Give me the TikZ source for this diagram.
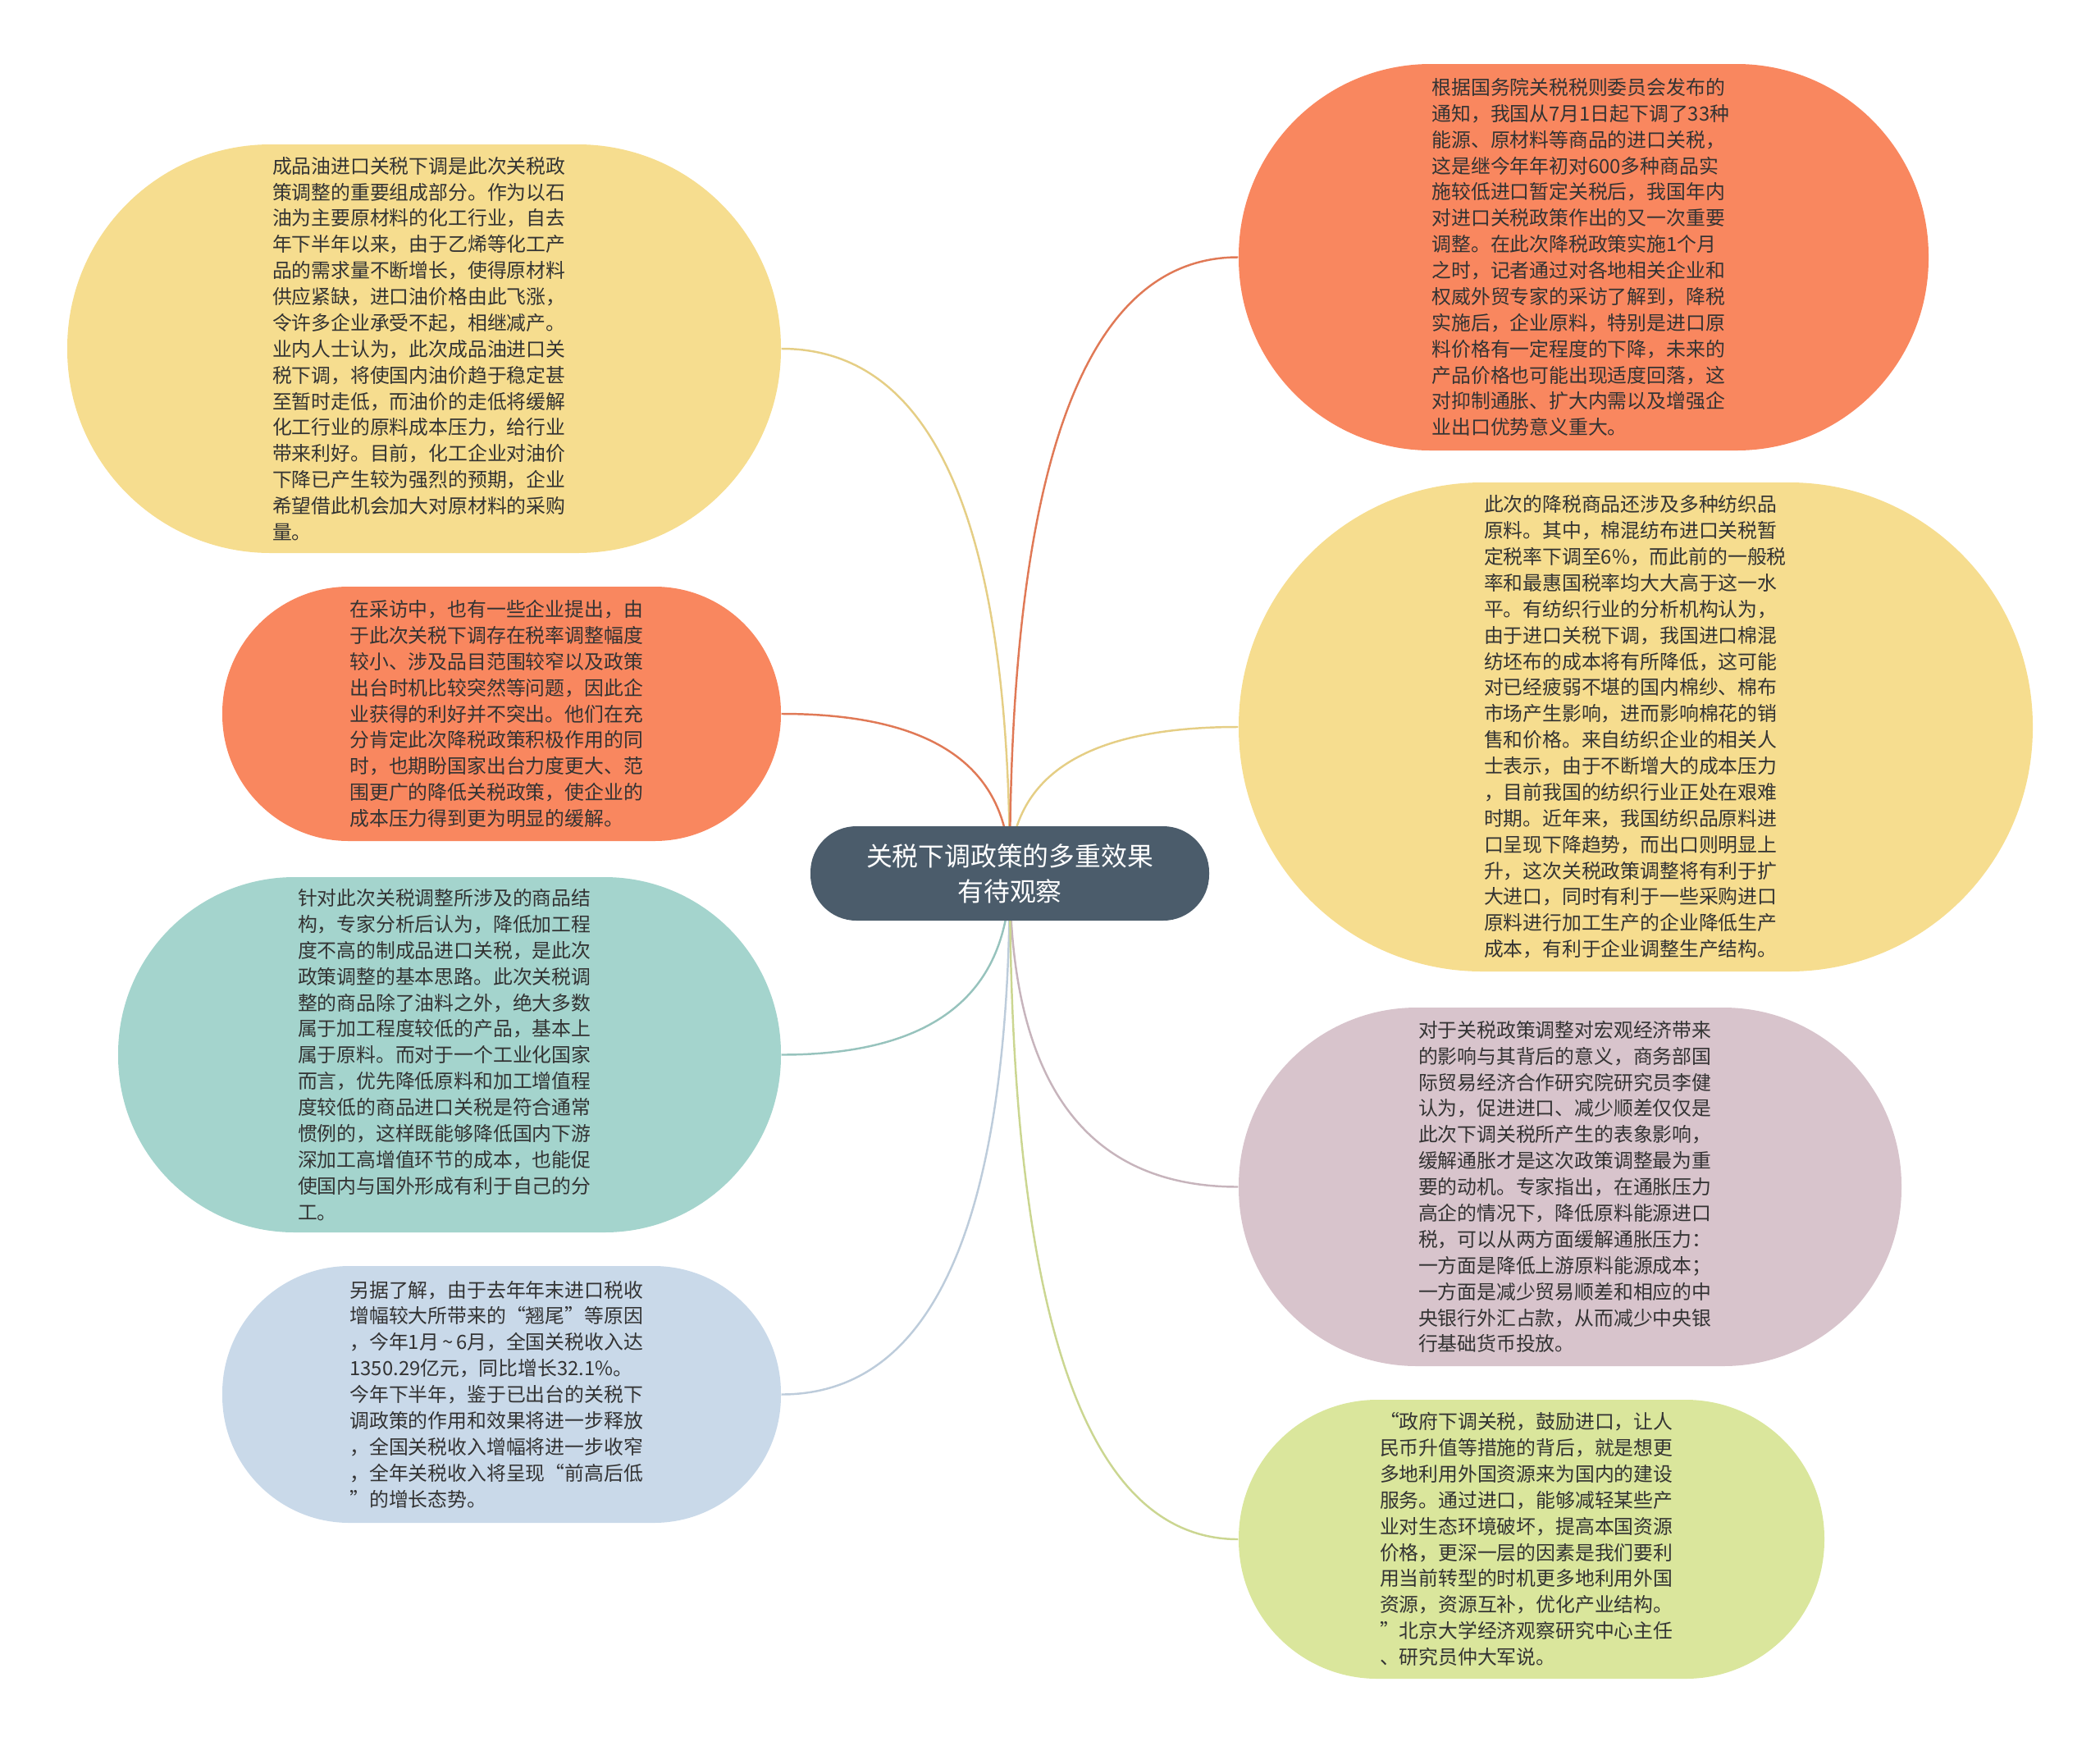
\documentclass[tikz,border=0pt]{standalone}
\usepackage{fontspec}
\usepackage{xcolor}
\usepackage{tikz}
\usetikzlibrary{backgrounds}
\newfontfamily\cjk{Noto Sans CJK SC}
\definecolor{topicslate}{HTML}{4B5C6B}
\definecolor{inkgray}{HTML}{333333}
\definecolor{sandyellow}{HTML}{F6DD8F}
\definecolor{coralorange}{HTML}{F9875F}
\definecolor{mintteal}{HTML}{A4D4CD}
\definecolor{mistblue}{HTML}{C9D9E9}
\definecolor{dustmauve}{HTML}{D8C4CC}
\definecolor{limegreen}{HTML}{DAE69C}

\begin{document}
\begin{tikzpicture}[
    topic/.style={
        fill=topicslate, text=white,
        rectangle, rounded corners=0.56cm,
        minimum width=4.86cm, minimum height=1.15cm, inner sep=0pt,
        align=center, font=\cjk\fontsize{9.05pt}{12.15pt}\selectfont,
    },
    leaf/.style={
        rectangle, inner sep=0pt, text=inkgray, text width=3.70cm,
        align=left, font=\cjk\fontsize{6.78pt}{9.07pt}\selectfont,
    },
    link/.style={line width=0.7pt},
]
\useasboundingbox (0,0) rectangle (25.6,-21.27);

\node[topic] (main) at (12.31,-10.645) {关税下调政策的多重效果\\有待观察};

% left side
\node[leaf, fill=sandyellow, minimum width=8.70cm, minimum height=4.98cm, rounded corners=2.48cm] (oil) at (5.17,-4.25) {成品油进口关税下调是此次关税政\\
策调整的重要组成部分。作为以石\\
油为主要原材料的化工行业，自去\\
年下半年以来，由于乙烯等化工产\\
品的需求量不断增长，使得原材料\\
供应紧缺，进口油价格由此飞涨，\\
令许多企业承受不起，相继减产。\\
业内人士认为，此次成品油进口关\\
税下调，将使国内油价趋于稳定甚\\
至暂时走低，而油价的走低将缓解\\
化工行业的原料成本压力，给行业\\
带来利好。目前，化工企业对油价\\
下降已产生较为强烈的预期，企业\\
希望借此机会加大对原材料的采购\\
量。};
\node[leaf, fill=coralorange, minimum width=6.81cm, minimum height=3.10cm, rounded corners=1.54cm] (cut) at (6.115,-8.70) {在采访中，也有一些企业提出，由\\
于此次关税下调存在税率调整幅度\\
较小、涉及品目范围较窄以及政策\\
出台时机比较突然等问题，因此企\\
业获得的利好并不突出。他们在充\\
分肯定此次降税政策积极作用的同\\
时，也期盼国家出台力度更大、范\\
围更广的降低关税政策，使企业的\\
成本压力得到更为明显的缓解。};
\node[leaf, fill=mintteal, minimum width=8.08cm, minimum height=4.33cm, rounded corners=2.15cm] (struct) at (5.48,-12.855) {针对此次关税调整所涉及的商品结\\
构，专家分析后认为，降低加工程\\
度不高的制成品进口关税，是此次\\
政策调整的基本思路。此次关税调\\
整的商品除了油料之外，绝大多数\\
属于加工程度较低的产品，基本上\\
属于原料。而对于一个工业化国家\\
而言，优先降低原料和加工增值程\\
度较低的商品进口关税是符合通常\\
惯例的，这样既能够降低国内下游\\
深加工高增值环节的成本，也能促\\
使国内与国外形成有利于自己的分\\
工。};
\node[leaf, fill=mistblue, minimum width=6.81cm, minimum height=3.13cm, rounded corners=1.55cm] (revenue) at (6.115,-16.995) {另据了解，由于去年年末进口税收\\
增幅较大所带来的“翘尾”等原因\\
，今年1月\,\textasciitilde\,6月，全国关税收入达\\
1350.29亿元，同比增长32.1\%。\\
今年下半年，鉴于已出台的关税下\\
调政策的作用和效果将进一步释放\\
，全国关税收入增幅将进一步收窄\\
，全年关税收入将呈现“前高后低\\
”的增长态势。};

% right side
\node[leaf, fill=coralorange, minimum width=8.41cm, minimum height=4.71cm, rounded corners=2.34cm] (notice) at (19.305,-3.135) {根据国务院关税税则委员会发布的\\
通知，我国从7月1日起下调了33种\\
能源、原材料等商品的进口关税，\\
这是继今年年初对600多种商品实\\
施较低进口暂定关税后，我国年内\\
对进口关税政策作出的又一次重要\\
调整。在此次降税政策实施1个月\\
之时，记者通过对各地相关企业和\\
权威外贸专家的采访了解到，降税\\
实施后，企业原料，特别是进口原\\
料价格有一定程度的下降，未来的\\
产品价格也可能出现适度回落，这\\
对抑制通胀、扩大内需以及增强企\\
业出口优势意义重大。};
\node[leaf, fill=sandyellow, minimum width=9.68cm, minimum height=5.96cm, rounded corners=2.97cm] (textile) at (19.94,-8.86) {此次的降税商品还涉及多种纺织品\\
原料。其中，棉混纺布进口关税暂\\
定税率下调至6\%，而此前的一般税\\
率和最惠国税率均大大高于这一水\\
平。有纺织行业的分析机构认为，\\
由于进口关税下调，我国进口棉混\\
纺坯布的成本将有所降低，这可能\\
对已经疲弱不堪的国内棉纱、棉布\\
市场产生影响，进而影响棉花的销\\
售和价格。来自纺织企业的相关人\\
士表示，由于不断增大的成本压力\\
，目前我国的纺织行业正处在艰难\\
时期。近年来，我国纺织品原料进\\
口呈现下降趋势，而出口则明显上\\
升，这次关税政策调整将有利于扩\\
大进口，同时有利于一些采购进口\\
原料进行加工生产的企业降低生产\\
成本，有利于企业调整生产结构。};
\node[leaf, fill=dustmauve, minimum width=8.08cm, minimum height=4.37cm, rounded corners=2.17cm] (inflation) at (19.14,-14.465) {对于关税政策调整对宏观经济带来\\
的影响与其背后的意义，商务部国\\
际贸易经济合作研究院研究员李健\\
认为，促进进口、减少顺差仅仅是\\
此次下调关税所产生的表象影响，\\
缓解通胀才是这次政策调整最为重\\
要的动机。专家指出，在通胀压力\\
高企的情况下，降低原料能源进口\\
税，可以从两方面缓解通胀压力：\\
一方面是降低上游原料能源成本；\\
一方面是减少贸易顺差和相应的中\\
央银行外汇占款，从而减少中央银\\
行基础货币投放。};
\node[leaf, fill=limegreen, minimum width=7.14cm, minimum height=3.40cm, rounded corners=1.69cm] (resource) at (18.67,-18.76) {“政府下调关税，鼓励进口，让人\\
民币升值等措施的背后，就是想更\\
多地利用外国资源来为国内的建设\\
服务。通过进口，能够减轻某些产\\
业对生态环境破坏，提高本国资源\\
价格，更深一层的因素是我们要利\\
用当前转型的时机更多地利用外国\\
资源，资源互补，优化产业结构。\\
”北京大学经济观察研究中心主任\\
、研究员仲大军说。};

% branches
\begin{scope}[on background layer]
\draw[link, draw=sandyellow!93!black] (oil.east) .. controls +(1.86,0) and +(0,4.26) .. (main.center);
\draw[link, draw=coralorange!90!black] (cut.east) .. controls +(1.86,0) and +(0,1.30) .. (main.center);
\draw[link, draw=mintteal!92!black] (struct.east) .. controls +(1.86,0) and +(0,-1.47) .. (main.center);
\draw[link, draw=mistblue!94!black] (revenue.east) .. controls +(1.86,0) and +(0,-4.23) .. (main.center);
\draw[link, draw=coralorange!90!black] (notice.west) .. controls +(-1.86,0) and +(0,5.01) .. (main.center);
\draw[link, draw=sandyellow!93!black] (textile.west) .. controls +(-1.86,0) and +(0,1.19) .. (main.center);
\draw[link, draw=dustmauve!92!black] (inflation.west) .. controls +(-1.86,0) and +(0,-2.55) .. (main.center);
\draw[link, draw=limegreen!93!black] (resource.west) .. controls +(-1.86,0) and +(0,-5.41) .. (main.center);
\end{scope}
\end{tikzpicture}
\end{document}
